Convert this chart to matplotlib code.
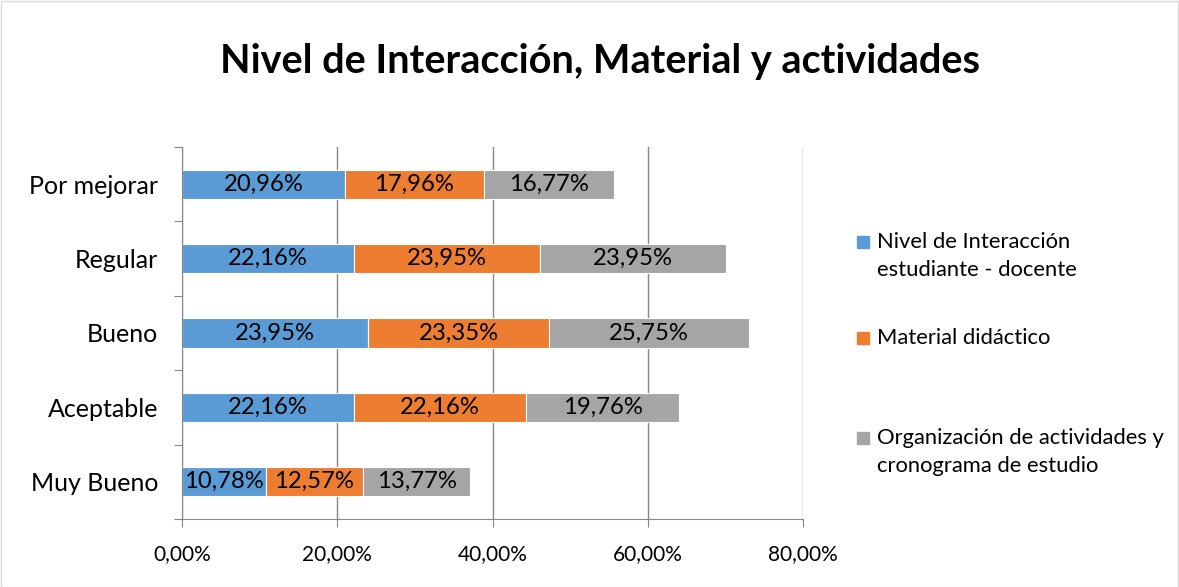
import matplotlib
matplotlib.use("Agg")
import matplotlib.pyplot as plt
from matplotlib.patches import Rectangle

categories = ["Muy Bueno", "Aceptable", "Bueno", "Regular", "Por mejorar"]
series_names = ["Nivel de Interacción\nestudiante - docente",
                "Material didáctico",
                "Organización de actividades y\ncronograma de estudio"]
interaccion = [10.78, 22.16, 23.95, 22.16, 20.96]
material = [12.57, 22.16, 23.35, 23.95, 17.96]
organizacion = [13.77, 19.76, 25.75, 23.95, 16.77]
colors = ["#5B9BD5", "#ED7D31", "#A5A5A5"]
xticks = [0, 20, 40, 60, 80]
title = "Nivel de Interacción, Material y actividades"

plt.rcParams['font.family'] = ['Lato', 'DejaVu Sans']

W, H = 1179, 587
fig = plt.figure(figsize=(W / 100, H / 100), dpi=100)
ax = fig.add_axes([182 / W, 1 - 519 / H, (803 - 182) / W, (519 - 147) / H])

ypos = list(range(len(categories)))
left = [0.0] * len(categories)
for vals, col in zip([interaccion, material, organizacion], colors):
    bars = ax.barh(ypos, vals, left=left, height=0.39, color=col,
                   edgecolor="white", linewidth=0.8, zorder=3)
    for y, v, l in zip(ypos, vals, left):
        ax.text(l + v / 2, y, f"{v:.2f}%".replace(".", ","), ha="center",
                va="center", fontsize=17.2, color="black", zorder=4)
    left = [a + b for a, b in zip(left, vals)]

ax.set_xlim(0, 80)
ax.set_ylim(-0.5, len(categories) - 0.5)
ax.set_xticks(xticks)
ax.set_xticklabels([f"{t:.2f}%".replace(".", ",") for t in xticks], fontsize=15)
ax.set_yticks([i - 0.5 for i in range(len(categories) + 1)])
ax.set_yticklabels([])
ax.set_yticks(ypos, minor=True)
ax.set_yticklabels(categories, minor=True, fontsize=18)
ax.tick_params(axis="y", which="major", length=6, color="#868686", direction="out")
ax.tick_params(axis="y", which="minor", length=0, pad=17)
ax.tick_params(axis="x", which="major", length=6, color="#868686", pad=12)
ax.grid(axis="x", color="#868686", linewidth=1, zorder=0)
for s in ["top", "right"]:
    ax.spines[s].set_visible(False)
for s in ["left", "bottom"]:
    ax.spines[s].set_color("#868686")
    ax.spines[s].set_zorder(5)

fig.text(600 / W, 1 - 62 / H, title, ha="center", va="center",
         fontsize=28.5, fontweight="bold")

# legend (manual)
leg_y = [256, 338, 452]
sq_y = [242, 338, 438]
for name, col, ly, sy in zip(series_names, colors, leg_y, sq_y):
    fig.patches.append(Rectangle((857 / W, 1 - (sy + 6) / H), 12 / W, 12 / H,
                                 transform=fig.transFigure, color=col))
    fig.text(877 / W, 1 - ly / H, name, ha="left", va="center",
             fontsize=15.8, linespacing=1.55)

fig.patches.append(Rectangle((0.5 / W, 0.5 / H), 1 - 1.5 / W, 1 - 1.5 / H,
                             transform=fig.transFigure, fill=False,
                             edgecolor="#D9D9D9", linewidth=1))

fig.savefig("out.png", dpi=100)
